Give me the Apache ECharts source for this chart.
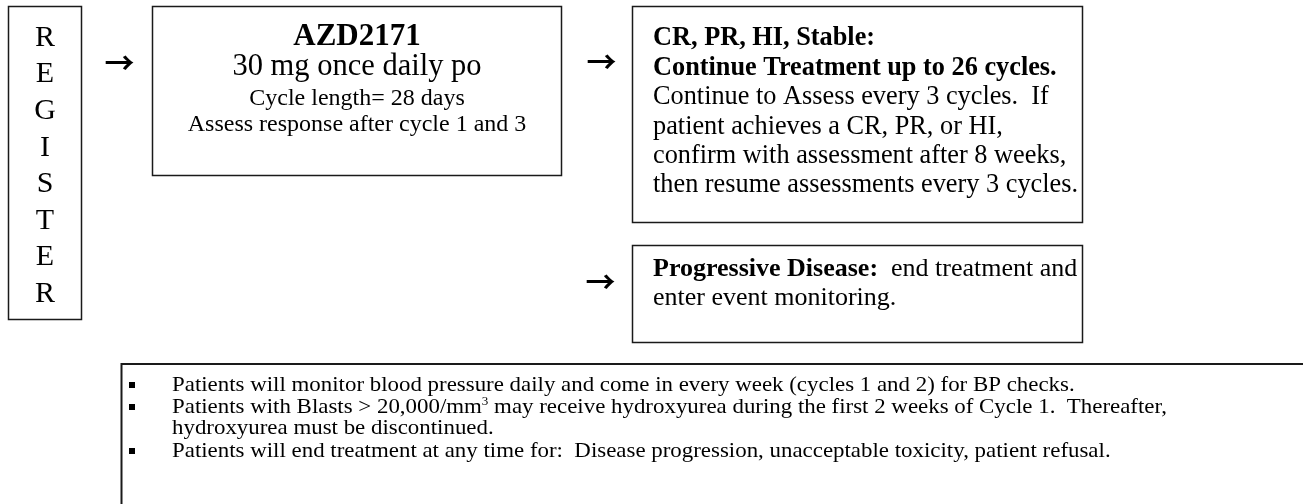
<!DOCTYPE html>
<html><head><meta charset="utf-8">
<script src="https://cdn.jsdelivr.net/npm/echarts@6/dist/echarts.min.js"></script>
<style>html,body{margin:0;padding:0;background:#fff}#c{width:1303px;height:504px}</style>
</head><body><div id="c"></div>
<script>
// ---- content ----
const registerLetters = ['R', 'E', 'G', 'I', 'S', 'T', 'E', 'R'];
const treatmentTitle = 'AZD2171';
const treatmentLines = ['30 mg once daily po', 'Cycle length= 28 days', 'Assess response after cycle 1 and 3'];
const responseBoldLines = ['CR, PR, HI, Stable:', 'Continue Treatment up to 26 cycles.'];
const responseLines = ['Continue to Assess every 3 cycles.  If', 'patient achieves a CR, PR, or HI,', 'confirm with assessment after 8 weeks,', 'then resume assessments every 3 cycles.'];
const progressionBold = 'Progressive Disease:';
const progressionLines = ['  end treatment and', 'enter event monitoring.'];
const noteBullets = [true, true, false, true];
const noteParts = [
  ['Patients will monitor blood pressure daily and come in every week (cycles 1 and 2) for BP checks.'],
  ['Patients with Blasts > 20,000/mm', '3', ' may receive hydroxyurea during the first 2 weeks of Cycle 1.  Thereafter,'],
  ['hydroxyurea must be discontinued.'],
  ['Patients will end treatment at any time for:  Disease progression, unacceptable toxicity, patient refusal.']
];
const arrowGlyph = '\u2192';

// ---- drawing ----
const FONT = '"Liberation Serif", "Times New Roman", serif';
const INK = '#000';
const BORDER = '#1a1a1a';
const els = [];
function box(x, y, w, h, lw) {
  els.push({type: 'rect', shape: {x: x, y: y, width: w, height: h},
    style: {fill: '#fff', stroke: BORDER, lineWidth: lw || 1.5}, z: 1});
}
function txt(x, y, text, size, opts) {
  opts = opts || {};
  els.push({type: 'text', x: x, y: y, scaleX: opts.scaleX || 1, z: 5,
    style: Object.assign({x: 0, y: 0, text: text, fontFamily: FONT, fontSize: size,
      fontWeight: opts.bold ? 'bold' : 'normal', fill: INK,
      align: opts.align || 'left', verticalAlign: 'middle'}, opts.extra || {})});
}

// boxes
box(8.5, 6.5, 73, 313);
box(152.5, 6.5, 409, 169);
box(632.5, 6.5, 450, 216);
box(632.5, 245.5, 450, 97);
box(121.5, 364, 1200, 160, 2);

// REGISTER
registerLetters.forEach((ch, i) => txt(45, 38 + i * 36.6, ch, 30, {align: 'center'}));

// arrows
[[119.5, 63], [601.5, 62], [600.5, 282]].forEach(p =>
  txt(p[0], p[1], arrowGlyph, 30, {align: 'center', bold: true,
    extra: {fontFamily: '"Noto Sans CJK SC", "DejaVu Sans", sans-serif'}}));

// treatment box
txt(357, 37, treatmentTitle, 31, {align: 'center', bold: true});
txt(357, 67, treatmentLines[0], 30.5, {align: 'center'});
txt(357, 99, treatmentLines[1], 24, {align: 'center'});
txt(357, 125, treatmentLines[2], 24, {align: 'center'});

// response box
const rl = responseBoldLines.concat(responseLines);
rl.forEach((t, i) => txt(653, 38.5 + i * 29.4, t, 26.3, {bold: i < responseBoldLines.length}));

// progression box
txt(653, 269.5, '{b|' + progressionBold + '}' + progressionLines[0], 26,
  {extra: {rich: {b: {fontFamily: FONT, fontSize: 26, fontWeight: 'bold', fill: INK}}}});
txt(653, 298.5, progressionLines[1], 26);

// notes
const noteY = [385, 407, 428, 451];
noteParts.forEach((parts, i) => {
  if (noteBullets[i]) {
    els.push({type: 'rect', shape: {x: 129, y: noteY[i] - 3, width: 6, height: 6},
      style: {fill: INK}, z: 5});
  }
  let s = parts[0];
  if (parts.length > 1) s = parts[0] + '{sup|' + parts[1] + '}' + parts[2];
  txt(172, noteY[i], s, 21, {scaleX: 1.09, extra: {rich: {sup: {fontFamily: FONT, fontSize: 12, fill: INK, padding: [0, 0, 10, 0]}}}});
});

const chart = echarts.init(document.getElementById('c'), null, {renderer: 'canvas'});
chart.setOption({backgroundColor: '#fff', animation: false, graphic: {elements: els}});
</script>
</body></html>
